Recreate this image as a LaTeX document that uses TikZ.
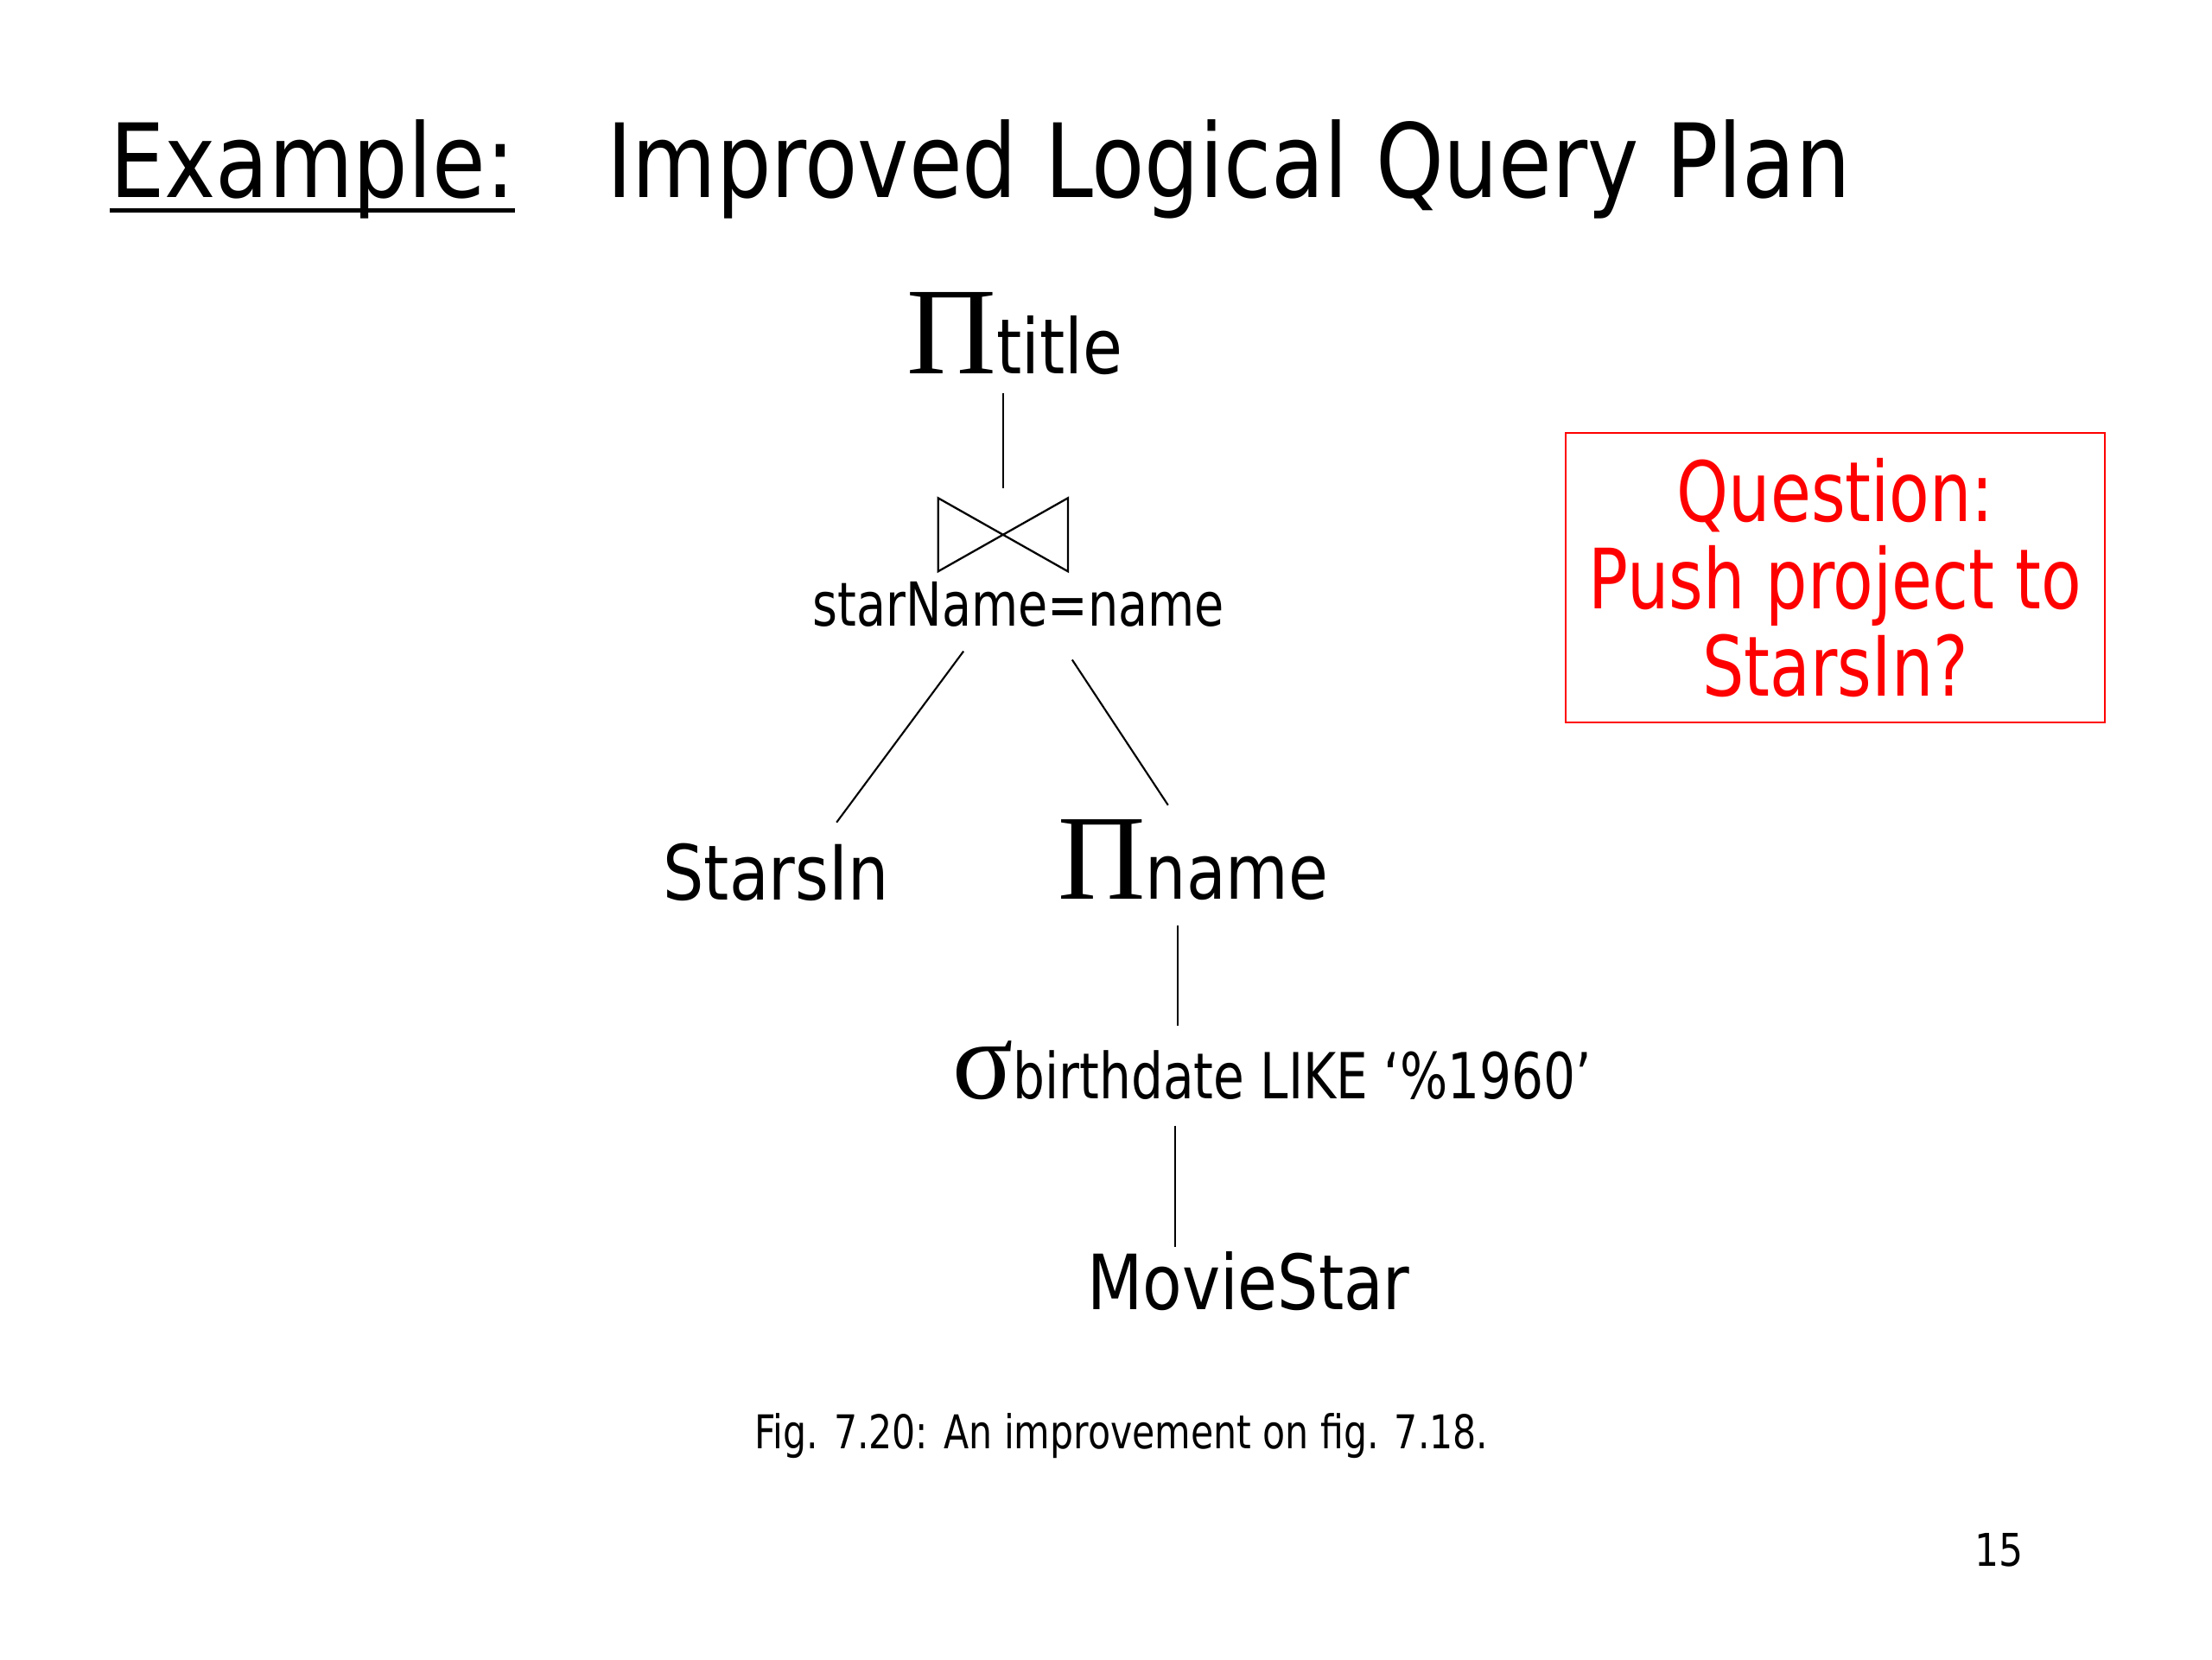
\documentclass[tikz,border=0pt]{standalone}
\usepackage{fontspec}
\setmainfont[FakeStretch=0.94]{DejaVu Sans Condensed}
\newfontfamily\narrowfont[FakeStretch=0.88]{DejaVu Sans Condensed}
\newfontfamily\grkfont{Liberation Serif}
\usetikzlibrary{positioning,calc}

\begin{document}
\begin{tikzpicture}[
  x=1pt,y=1pt,
  every node/.style={inner sep=0pt,outer sep=0pt},
  edge/.style={draw,line width=1.3pt},
  heading/.style={font=\fontsize{72.6}{80}\selectfont},
  rel/.style={font=\fontsize{54}{62}\selectfont},
  note/.style={draw=red,line width=1.5pt,text=red,align=center,
    font=\narrowfont\fontsize{59}{62}\selectfont,minimum width=382,minimum height=205}
]
  \useasboundingbox (0,0) rectangle (1568,-1176);

  % title
  \node[heading,anchor=base west] (ex) at (78,-140) {Example:};
  \node[heading,anchor=base west] (head) at (430,-140) {Improved Logical Query Plan};
  \draw[line width=3pt] ([yshift=-9pt]ex.base west) -- ([yshift=-9pt]ex.base east);

  % plan
  \node[anchor=base west] (ptitle) at (643,-265)
    {{\grkfont\fontsize{88}{90}\selectfont Π}{\fontsize{54}{60}\selectfont title}};
  \node[minimum width=92,minimum height=52] (join) at (711,-379) {};
  \draw[line width=1.4pt] (join.north west) -- (join.south east)
    -- (join.north east) -- (join.south west) -- cycle;
  \node[font=\narrowfont\fontsize{43}{50}\selectfont,anchor=base] (cond) at (722,-444) {starName=name};
  \node[rel,anchor=base] (starsin) at (550,-638) {StarsIn};
  \node[anchor=base west] (pname) at (750,-637)
    {{\grkfont\fontsize{86}{90}\selectfont Π}{\fontsize{54}{62}\selectfont name}};
  \node[anchor=base west] (sel) at (675,-779)
    {{\grkfont\fontsize{80}{90}\selectfont σ}{\narrowfont\fontsize{45}{52}\selectfont birthdate LIKE ‘\%1960’}};
  \node[rel,anchor=base] (moviestar) at (885,-928) {MovieStar};

  \draw[edge] ($(ptitle.south -| join.north)+(0,-13)$) -- ($(join.north)+(0,7)$);
  \draw[edge] ($(cond.south)+(-39,-17)$) -- ($(starsin.north)+(43,15)$);
  \draw[edge] ($(cond.south)+(38,-23)$) -- ($(pname.north west)+(78,10)$);
  \draw[edge] ($(pname.south west)+(85,-18)$) -- ($(sel.north west)+(160,11)$);
  \draw[edge] ($(sel.south west)+(158,-18)$) -- ($(moviestar.north)+(-52,3)$);

  % question box
  \node[note] (question) at (1301,-409.5) {Question:\\Push project to\\StarsIn?};

  \node[font=\narrowfont\fontsize{33}{40}\selectfont,anchor=base] (caption) at (795,-1027)
    {Fig. 7.20: An improvement on fig. 7.18.};
  \node[font=\fontsize{32}{40}\selectfont,anchor=base east] (page) at (1434,-1110) {15};
\end{tikzpicture}
\end{document}
